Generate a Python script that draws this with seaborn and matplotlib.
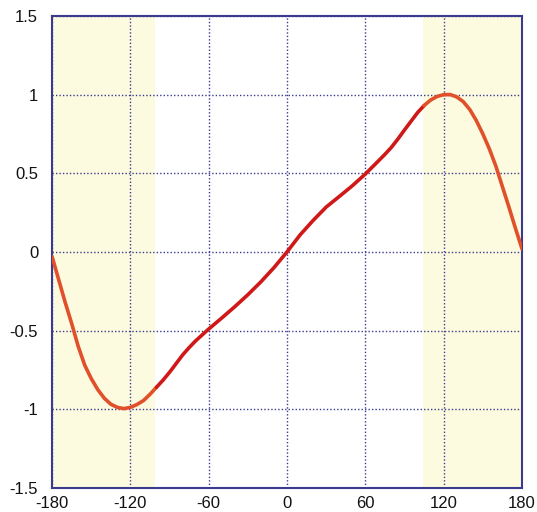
import matplotlib
matplotlib.use("Agg")
import matplotlib.pyplot as plt
import seaborn as sns
import pandas as pd

angle = [-180, -175, -170, -165, -160, -155, -150, -145, -140, -135, -130, -125,
         -120, -115, -110, -105, -100, -95, -90, -85, -80, -75, -70, -60, -50, -40,
         -30, -20, -10, 0, 10, 20, 30, 40, 50, 60, 70, 75, 80, 85, 90, 95, 100, 105,
         110, 115, 120, 125, 130, 135, 140, 145, 150, 155, 160, 165, 170, 175, 180]
value = [-0.03, -0.175, -0.32, -0.455, -0.60, -0.72, -0.805, -0.875, -0.93, -0.968, -0.988, -0.996,
         -0.988, -0.97, -0.945, -0.905, -0.86, -0.815, -0.765, -0.71, -0.655, -0.608, -0.565, -0.49, -0.42, -0.348,
         -0.272, -0.19, -0.10, 0.0, 0.108, 0.20, 0.285, 0.352, 0.42, 0.495, 0.578, 0.62, 0.665, 0.718, 0.775, 0.83, 0.885, 0.93,
         0.965, 0.988, 0.999, 1.0, 0.985, 0.955, 0.905, 0.835, 0.75, 0.655, 0.545, 0.415, 0.285, 0.15, 0.02]

shade_left = (-180, -101)
shade_right = (104, 180)
x_ticks = [-180, -120, -60, 0, 60, 120, 180]
y_ticks = [-1.5, -1, -0.5, 0, 0.5, 1, 1.5]
y_labels = ["-1.5", "-1", "-0.5", "0", "0.5", "1", "1.5"]

df = pd.DataFrame({"angle": angle, "value": value})

sns.set_style("white")
plt.rcParams['font.family'] = ['Liberation Sans', 'DejaVu Sans']

navy = "#3a3a8e"
fig = plt.figure(figsize=(5.37, 5.12), dpi=100)
ax = fig.add_axes([0.097, 0.047, 0.875, 0.922])

ax.axvspan(*shade_left, color="#fdfbdf", lw=0, zorder=0)
ax.axvspan(*shade_right, color="#fdfbdf", lw=0, zorder=0)

segs = [
    (df[df.angle <= -100], "#e0502a"),
    (df[(df.angle >= -100) & (df.angle <= 105)], "#d01818"),
    (df[df.angle >= 105], "#e0502a"),
]
for d, c in segs:
    sns.lineplot(data=d, x="angle", y="value", color=c, lw=2.6, ax=ax,
                 sort=False, estimator=None, zorder=3, solid_capstyle="round",
                 solid_joinstyle="round")

ax.set_xlim(-180, 180)
ax.set_ylim(-1.5, 1.5)
ax.set_xticks(x_ticks)
ax.set_xticklabels([str(t) for t in x_ticks])
ax.set_yticks(y_ticks)
ax.set_yticklabels(y_labels)
ax.grid(True, color=navy, linestyle=(0, (1, 1.5)), linewidth=1.0, zorder=1)
ax.set_axisbelow(False)
for s in ax.spines.values():
    s.set_color(navy)
    s.set_linewidth(1.5)
    s.set_visible(True)
ax.tick_params(axis="both", direction="in", length=4, width=1.2, color=navy,
               labelsize=12, labelcolor="#111111")
ax.tick_params(axis="y", pad=10)
ax.tick_params(axis="x", pad=6)
ax.set_xlabel("")
ax.set_ylabel("")

fig.savefig("out.png", dpi=100)
